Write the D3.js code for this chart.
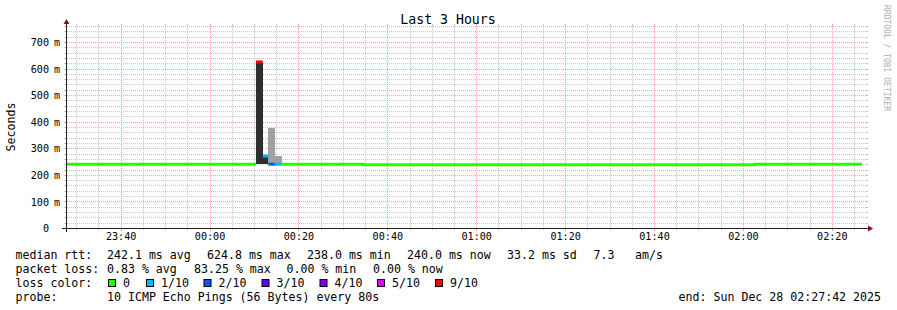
<!DOCTYPE html>
<html><head><meta charset="utf-8">
<script src="https://cdn.jsdelivr.net/npm/d3@7/dist/d3.min.js"></script>
<style>
html,body{margin:0;padding:0;background:#fff;color:#000;}
svg{display:block;}
text{font-family:"DejaVu Sans Mono", monospace; fill:#000;}
</style></head><body>
<svg id="chart" width="897" height="310"></svg>
<script>
// ---------------- data ----------------
const title = "Last 3 Hours";
const yAxisLabel = "Seconds";
const watermark = "RRDTOOL / TOBI OETIKER";
const startTime = "2025-12-27T23:27:42";
const endTime = "2025-12-28T02:27:42";
const yMaxMs = 760;
const yMajorTicks = [0, 100, 200, 300, 400, 500, 600, 700];
const yTickLabels = ["0", "100 m", "200 m", "300 m", "400 m", "500 m", "600 m", "700 m"];
const xTickLabels = ["23:40", "00:00", "00:20", "00:40", "01:00", "01:20", "01:40", "02:00", "02:20"];

// median rtt per step (ms), packet loss (out of 10), smoke band (ms)
const stepStart = ["2025-12-27T23:27:42", "2025-12-28T00:10:27", "2025-12-28T00:11:57", "2025-12-28T00:13:13",
                   "2025-12-28T00:14:43", "2025-12-28T00:16:14", "2025-12-28T00:34:31", "2025-12-28T02:02:43"];
const stepEnd   = ["2025-12-28T00:10:27", "2025-12-28T00:11:57", "2025-12-28T00:13:13", "2025-12-28T00:14:43",
                   "2025-12-28T00:16:14", "2025-12-28T00:34:31", "2025-12-28T02:02:43", "2025-12-28T02:26:48"];
const medianMs  = [240.0, 624.8, 271.0, 240.0, 240.0, 240.0, 238.0, 240.0];
const lossCount = [0, 9, 1, 2, 1, 0, 0, 0];
const smokeLowMs  = [null, 240, 240, 240, 240, null, null, null];
const smokeHighMs = [null, 624.8, 271, 377, 270, null, null, null];
const smokeDense  = [0, 1, 1, 0, 0, 0, 0, 0];

const lossLegendKeys = [0, 1, 2, 3, 4, 5, 9];
const lossLegendLabels = ["0", "1/10", "2/10", "3/10", "4/10", "5/10", "9/10"];

const statsMedian = ["median rtt:", "242.1 ms avg", "624.8 ms max", "238.0 ms min", "240.0 ms now", "33.2 ms sd", "7.3", "am/s"];
const statsLoss = ["packet loss:", "0.83 % avg", "83.25 % max", "0.00 % min", "0.00 % now"];
const lossColorLabel = "loss color:";
const probeInfo = ["probe:", "10 ICMP Echo Pings (56 Bytes) every 80s"];
const endLabel = "end: Sun Dec 28 02:27:42 2025";

// ---------------- styles / layout ----------------
const lossColors = {0: "#26ff00", 1: "#00b8ff", 2: "#0059ff", 3: "#5e00ff", 4: "#7e00ff", 5: "#dd00ff", 9: "#ff0000"};
const X0 = 66, X1 = 866, Y0 = 228, Y1 = 26;
const gridColor = "#c8c8c8", mgridColor = "#f2a4a4";
const axisColor = "#202020", arrowColor = "#8b1010";

const parse = d3.timeParse("%Y-%m-%dT%H:%M:%S");
const svg = d3.select("#chart");

const x = d3.scaleTime().domain([parse(startTime), parse(endTime)]).range([X0, X1]);
const y = d3.scaleLinear().domain([0, yMaxMs]).range([Y0, Y1]);
const px = v => Math.round(v) + 0.5;

// ---- grid ----
const grid = svg.append("g");
const yMinor = d3.range(20, yMaxMs + 1, 20).filter(v => v % 100 !== 0);
yMinor.forEach(v => {
  const yy = px(y(v));
  grid.append("line").attr("x1", X0 + 1).attr("x2", X1).attr("y1", yy).attr("y2", yy)
    .attr("stroke", gridColor).attr("stroke-dasharray", "1,1");
  grid.append("line").attr("x1", X0 - 2).attr("x2", X0).attr("y1", yy).attr("y2", yy).attr("stroke", gridColor);
  grid.append("line").attr("x1", X1).attr("x2", X1 + 2).attr("y1", yy).attr("y2", yy).attr("stroke", gridColor);
});
const xAll = x.ticks(d3.timeMinute.every(5));
const xMajorTimes = xTickLabels.map(l => {
  const h = +l.slice(0, 2);
  return parse((h >= 12 ? "2025-12-27T" : "2025-12-28T") + l + ":00");
});
const majorSet = new Set(xMajorTimes.map(d => +d));
xAll.filter(d => !majorSet.has(+d)).forEach(d => {
  const xx = px(x(d));
  grid.append("line").attr("x1", xx).attr("x2", xx).attr("y1", Y1).attr("y2", Y0)
    .attr("stroke", gridColor).attr("stroke-dasharray", "1,1");
  grid.append("line").attr("x1", xx).attr("x2", xx).attr("y1", Y1 - 2).attr("y2", Y1).attr("stroke", gridColor);
  grid.append("line").attr("x1", xx).attr("x2", xx).attr("y1", Y0).attr("y2", Y0 + 2).attr("stroke", gridColor);
});
yMajorTicks.filter(v => v > 0).forEach(v => {
  const yy = px(y(v));
  grid.append("line").attr("x1", X0 + 1).attr("x2", X1).attr("y1", yy).attr("y2", yy)
    .attr("stroke", mgridColor).attr("stroke-dasharray", "1,1");
  grid.append("line").attr("x1", X0 - 2).attr("x2", X0).attr("y1", yy).attr("y2", yy).attr("stroke", mgridColor);
  grid.append("line").attr("x1", X1).attr("x2", X1 + 2).attr("y1", yy).attr("y2", yy).attr("stroke", mgridColor);
});
xMajorTimes.forEach(d => {
  const xx = px(x(d));
  grid.append("line").attr("x1", xx).attr("x2", xx).attr("y1", Y1).attr("y2", Y0)
    .attr("stroke", mgridColor).attr("stroke-dasharray", "1,1");
  grid.append("line").attr("x1", xx).attr("x2", xx).attr("y1", Y1 - 2).attr("y2", Y1).attr("stroke", mgridColor);
  grid.append("line").attr("x1", xx).attr("x2", xx).attr("y1", Y0).attr("y2", Y0 + 3).attr("stroke", mgridColor);
});

// ---- smoke ----
const steps = stepStart.map((s, i) => ({
  t0: parse(s), t1: parse(stepEnd[i]), med: medianMs[i], loss: lossCount[i],
  lo: smokeLowMs[i], hi: smokeHighMs[i], dense: smokeDense[i]
}));
svg.append("g").selectAll("rect").data(steps.filter(d => d.lo != null)).join("rect")
  .attr("x", d => Math.round(x(d.t0)))
  .attr("width", d => Math.round(x(d.t1)) - Math.round(x(d.t0)))
  .attr("y", d => Math.round(y(d.hi)))
  .attr("height", d => Math.round(y(d.lo)) - Math.round(y(d.hi)))
  .attr("fill", d => d.dense ? "#2e2e2e" : "#a0a0a0");

// ---- median line (colored by loss) ----
const runs = [];
steps.forEach(d => {
  const last = runs[runs.length - 1];
  if (last && last.loss === d.loss) last.pts.push(d); else runs.push({loss: d.loss, pts: [d]});
});
const line = d3.line().x(p => x(p[0])).y(p => y(p[1])).curve(d3.curveLinear);
runs.forEach(r => {
  const pts = [];
  r.pts.forEach(d => { pts.push([d.t0, d.med]); pts.push([d.t1, d.med]); });
  svg.append("path").attr("d", line(pts)).attr("fill", "none")
    .attr("stroke", lossColors[r.loss]).attr("stroke-width", 3).attr("stroke-linejoin", "miter");
});

// ---- axes ----
const yAxis = svg.append("g").attr("transform", `translate(${X0 - 17},0)`)
  .call(d3.axisLeft(y).tickValues(yMajorTicks).tickSize(0).tickPadding(0)
        .tickFormat((d, i) => yTickLabels[i].split(" ")[0]));
yAxis.select(".domain").remove();
yAxis.selectAll("text").attr("font-size", "10.15px").attr("font-family", "DejaVu Sans Mono")
  .attr("dy", "0.36em").style("fill", "#000");
yAxis.selectAll(".tick").each(function (d, i) {
  const parts = yTickLabels[i].split(" ");
  if (parts.length > 1) d3.select(this).append("text").attr("x", 5).attr("dy", "0.36em")
    .attr("font-size", "10.15px").attr("text-anchor", "start").style("fill", "#000").text(parts[1]);
});

const xAxis = svg.append("g").attr("transform", `translate(0,${Y0 + 4})`)
  .call(d3.axisBottom(x).tickValues(xMajorTimes).tickSize(0).tickPadding(0)
        .tickFormat((d, i) => xTickLabels[i]));
xAxis.select(".domain").remove();
xAxis.selectAll("text").attr("font-size", "10.15px").attr("font-family", "DejaVu Sans Mono")
  .attr("dy", "0.75em").style("fill", "#000");

svg.append("line").attr("x1", X0 - 4).attr("x2", X1 + 4).attr("y1", Y0 + 0.5).attr("y2", Y0 + 0.5)
  .attr("stroke", axisColor);
svg.append("line").attr("x1", X0 + 0.5).attr("x2", X0 + 0.5).attr("y1", Y0 + 4).attr("y2", Y1 - 4)
  .attr("stroke", axisColor);
svg.append("path").attr("d", `M${X1 + 2},${Y0 - 2.5}L${X1 + 2},${Y0 + 3.5}L${X1 + 7},${Y0 + 0.5}Z`).attr("fill", arrowColor);
svg.append("path").attr("d", `M${X0 - 2.5},${Y1 - 2}L${X0 + 3.5},${Y1 - 2}L${X0 + 0.5},${Y1 - 7}Z`).attr("fill", arrowColor);

// ---- title / labels ----
svg.append("text").attr("x", 448).attr("y", 24).attr("text-anchor", "middle")
  .attr("font-size", "13.2px").text(title);
svg.append("text").attr("transform", `translate(14.5,${(Y0 + Y1) / 2}) rotate(-90)`)
  .attr("text-anchor", "middle").attr("font-size", "11.6px").text(yAxisLabel);
svg.append("text").attr("transform", `translate(884,5) rotate(90)`)
  .attr("font-size", "8px").style("fill", "#b0b0b0").text(watermark);

// ---- legend ----
const leg = svg.append("g").attr("font-size", "11.6px");
const row1x = [15.5, 107, 207, 307, 407, 507, 593.5, 635];
statsMedian.forEach((s, i) => leg.append("text").attr("x", row1x[i]).attr("y", 258.5).text(s));
const row2x = [15.5, 107, 194, 286.5, 373];
statsLoss.forEach((s, i) => leg.append("text").attr("x", row2x[i]).attr("y", 272.5).text(s));
leg.append("text").attr("x", 15.5).attr("y", 286.5).text(lossColorLabel);
const boxX = [108, 146, 203.5, 261.5, 319.5, 377, 435];
lossLegendKeys.forEach((k, i) => {
  leg.append("rect").attr("x", boxX[i] + 0.5).attr("y", 279.5).attr("width", 7).attr("height", 7)
    .attr("fill", lossColors[k]).attr("stroke", "#000").attr("stroke-width", 1);
  leg.append("text").attr("x", boxX[i] + 15).attr("y", 286.5).text(lossLegendLabels[i]);
});
leg.append("text").attr("x", 15.5).attr("y", 300.5).text(probeInfo[0]);
leg.append("text").attr("x", 107).attr("y", 300.5).text(probeInfo[1]);
leg.append("text").attr("x", 881).attr("y", 300.5).attr("text-anchor", "end").text(endLabel);
</script>
</body></html>
